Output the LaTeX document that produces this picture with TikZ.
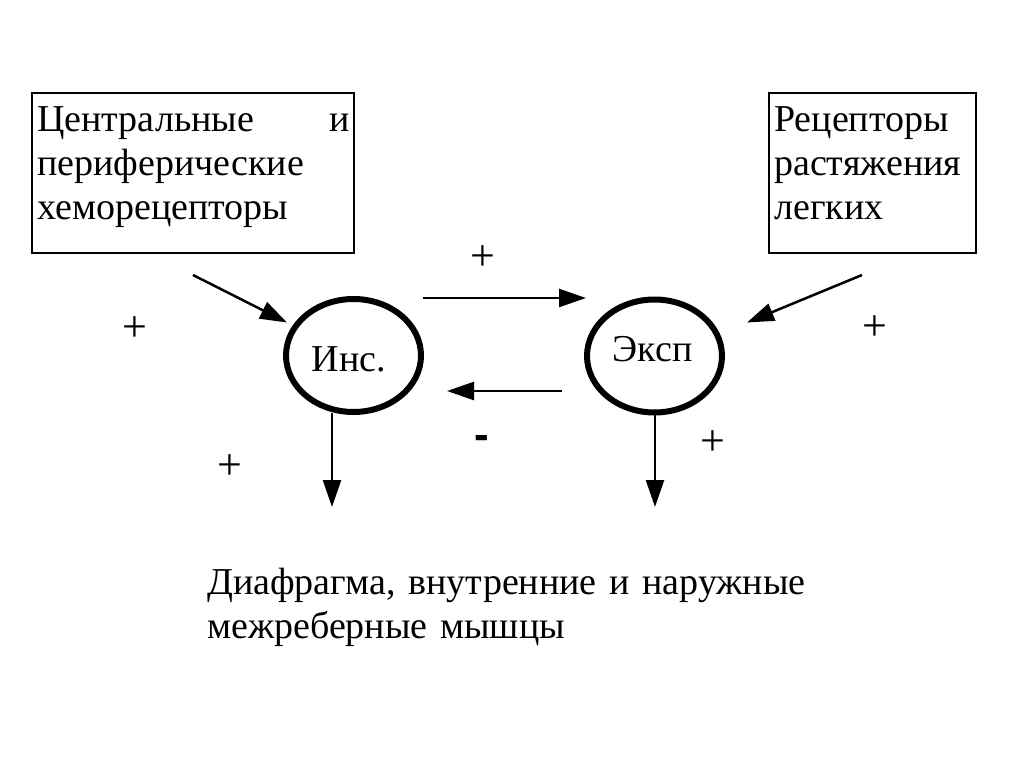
\documentclass[tikz,border=0pt]{standalone}
\usepackage{fontspec}
\setmainfont{Liberation Serif}
\newfontfamily\sansfnt{Liberation Sans}
\usetikzlibrary{arrows.meta,shapes.geometric}
\begin{document}
\begin{tikzpicture}[x=1pt,y=-1pt,
  box/.style={draw, line width=2pt, rectangle, inner sep=0pt, anchor=north west},
  oval/.style={draw, line width=6pt, ellipse, inner sep=0pt, minimum width=135pt, minimum height=113pt},
  txt/.style={font=\fontsize{38}{44}\selectfont, inner sep=0pt},
  sign/.style={font=\fontsize{44}{50}\selectfont, inner sep=0pt, anchor=base},
  conn/.style={line width=2.5pt, -{Triangle[length=27pt,width=18pt]}},
]
\useasboundingbox[fill=white] (0,0) rectangle (1024,767);

% boxes
\node[box, minimum width=322pt, minimum height=160pt] (chemo) at (31,92) {};
\node[txt, anchor=base west, text width=313pt, align=left] (chemotxt) at (37,132)
  {Центральные\hfill и\\периферические\\хеморецепторы};
\node[box, minimum width=207pt, minimum height=160pt] (stretch) at (768,92) {};
\node[txt, anchor=base west, text width=200pt, align=left] (stretchtxt) at (774,132)
  {Рецепторы\\растяжения\\легких};

% ellipses
\node[oval] (ins) at (353.5,355.5) {};
\node[txt, anchor=base] (instxt) at (349,371.7) {Инс.};
\node[oval] (exp) at (654.5,356) {};
\node[txt, anchor=base] (exptxt) at (652.5,361.7) {Эксп};

% bottom text
\node[txt, anchor=base west, text width=700pt, align=left] (muscles) at (207,594)
  {Диафрагма, внутренние и наружные\\межреберные мышцы};

% connector end points
\coordinate (a1s) at (423,298);
\coordinate (a1e) at (586,298);
\coordinate (a2s) at (562,391);
\coordinate (a2e) at (447,391);
\coordinate (d1s) at (193,275);
\coordinate (d1e) at (287,322.5);
\coordinate (d2s) at (862,275);
\coordinate (d2e) at (747,322.5);
\coordinate (v1s) at (332,413);
\coordinate (v1e) at (332,507);
\coordinate (v2s) at (655,413);
\coordinate (v2e) at (655,507);

\draw[conn] (a1s) -- (a1e);
\draw[conn] (a2s) -- (a2e);
\draw[conn] (d1s) -- (d1e);
\draw[conn] (d2s) -- (d2e);
\draw[conn] (v1s) -- (v1e);
\draw[conn] (v2s) -- (v2e);

% signs
\node[sign] (p1) at (483,270.4) {+};
\node[sign] (p2) at (135,341.4) {+};
\node[sign] (p3) at (875,340.4) {+};
\node[sign] (p4) at (230,479.4) {+};
\node[sign] (p5) at (713,455.4) {+};
\node[anchor=base, inner sep=0pt, font=\sansfnt\bfseries\fontsize{44}{50}\selectfont] (m1) at (482,449) {-};
\end{tikzpicture}
\end{document}
